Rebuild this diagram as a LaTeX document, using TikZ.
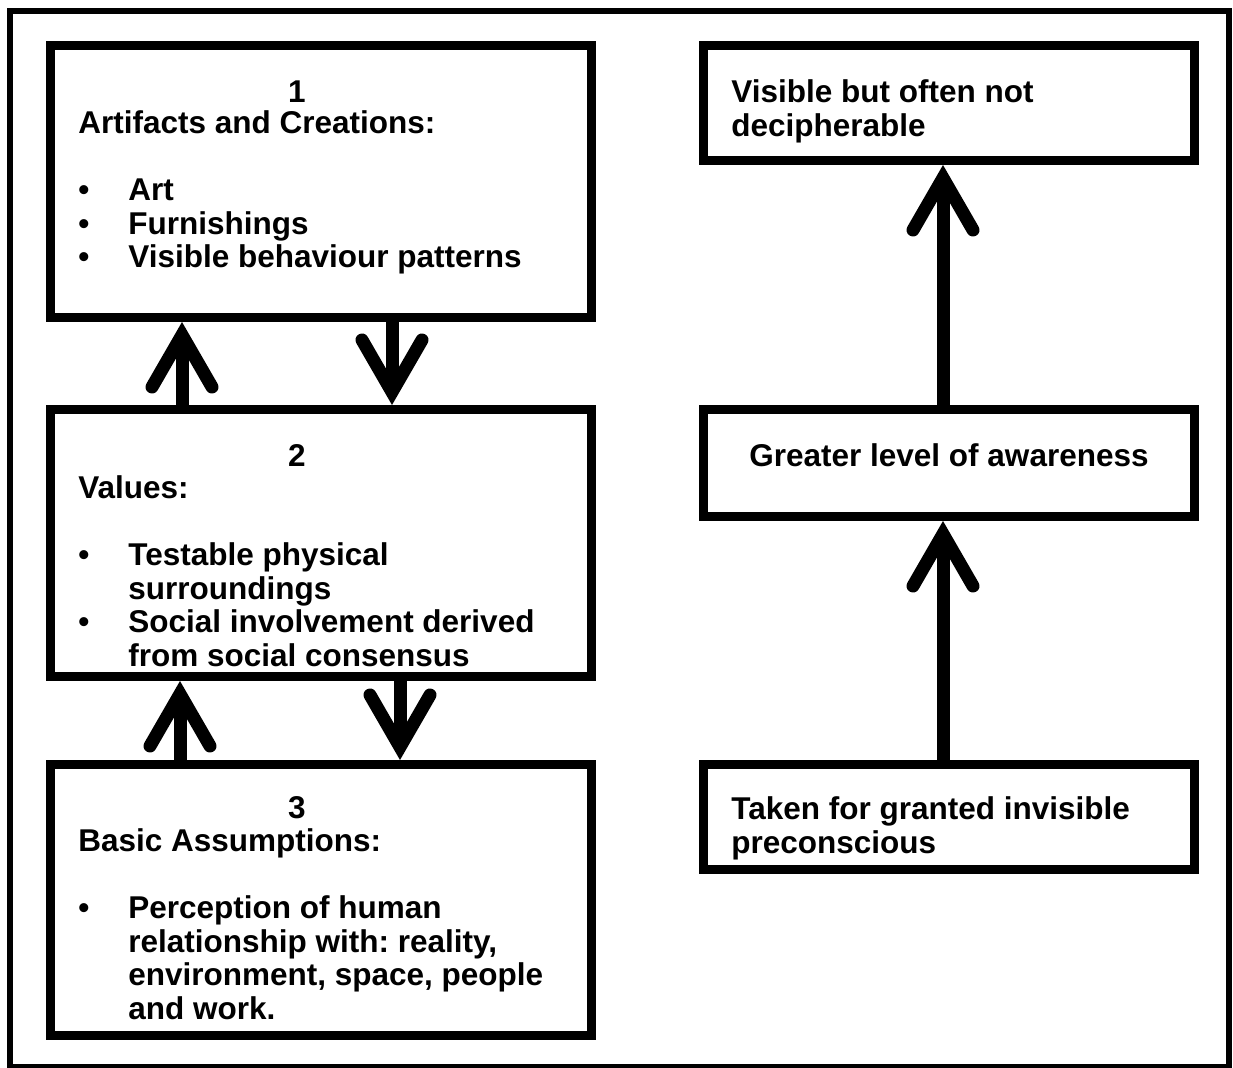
\documentclass[tikz,border=0pt]{standalone}
\usepackage{fontspec}
\setmainfont{Liberation Sans}
\usetikzlibrary{arrows.meta}
\frenchspacing
% bulleted line and its indented continuation
\newcommand\bul[1]{\makebox[25pt][l]{\textbullet}#1}
\newcommand\cont[1]{\hspace*{25pt}#1}
\begin{document}
\begin{tikzpicture}[x=0.5pt,y=-0.5pt,
  box/.style={draw, rectangle, line width=4.5pt, inner sep=0pt, minimum width=270.5pt},
  rbox/.style={draw, rectangle, line width=4.5pt, inner sep=0pt, minimum width=245.5pt},
  txt/.style={font=\bfseries\fontsize{15.75pt}{16.75pt}\selectfont, inner sep=0pt, align=left, anchor=base west},
  num/.style={font=\bfseries\fontsize{15.75pt}{16.75pt}\selectfont, inner sep=0pt, anchor=base},
  arr/.style={line width=6.5pt, -{Straight Barb[length=26pt,width=30pt,line cap=round,line join=miter]}}]
\useasboundingbox (0,0) rectangle (1233,1068);
% outer frame
\draw[line width=3pt] (10,11) rectangle (1229,1067);

% left column: the three levels
\node[box, minimum height=136pt]   (b1) at (321,181.5) {};
\node[box, minimum height=133.5pt] (b2) at (321,543) {};
\node[box, minimum height=135.5pt] (b3) at (321,900) {};

% right column: degree of awareness
\node[rbox, minimum height=57.5pt] (ra) at (949,103) {};
\node[rbox, minimum height=53.5pt] (rb) at (949,463) {};
\node[rbox, minimum height=52.5pt] (rc) at (949,817) {};

% texts of the levels (each text node sits on the baseline of its last line)
\node[num] (n1) at (297,103) {1};
\node[txt] (t1) at (78,268) {Artifacts and Creations:\\[16.75pt]
  \bul{Art}\\
  \bul{Furnishings}\\
  \bul{Visible behaviour patterns}};

\node[num] (n2) at (297,467) {2};
\node[txt] (t2) at (78,666.5) {Values:\\[16.75pt]
  \bul{Testable physical}\\
  \cont{surroundings}\\
  \bul{Social involvement derived}\\
  \cont{from social consensus}};

\node[num] (n3) at (297,819) {3};
\node[txt] (t3) at (78,1019.5) {Basic Assumptions:\\[16.75pt]
  \bul{Perception of human}\\
  \cont{relationship with: reality,}\\
  \cont{environment, space, people}\\
  \cont{and work.}};

% texts of the awareness boxes
\node[txt] (ta) at (731,136.5) {Visible but often not\\decipherable};
\node[txt] (tb) at (749,467) {Greater level of awareness};
\node[txt] (tc) at (731,853.5) {Taken for granted invisible\\preconscious};

% x positions of the connectors
\coordinate (u12) at (182,0);
\coordinate (d12) at (392,0);
\coordinate (u23) at (180,0);
\coordinate (d23) at (400,0);
\coordinate (ur)  at (943,0);

\draw[arr] (b2.north -| u12) -- (b1.south -| u12);
\draw[arr] (b1.south -| d12) -- (b2.north -| d12);
\draw[arr] (b3.north -| u23) -- (b2.south -| u23);
\draw[arr] (b2.south -| d23) -- (b3.north -| d23);
\draw[arr] (rb.north -| ur) -- (ra.south -| ur);
\draw[arr] (rc.north -| ur) -- (rb.south -| ur);
\end{tikzpicture}
\end{document}
